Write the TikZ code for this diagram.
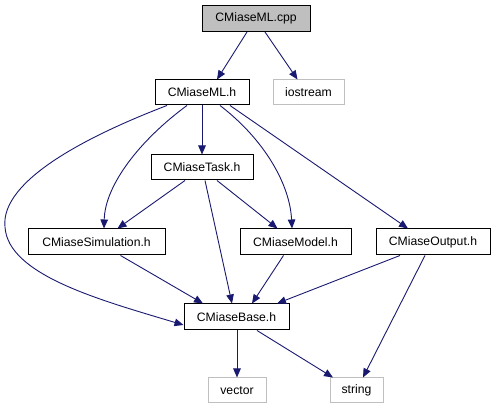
\documentclass[tikz,border=0pt]{standalone}
\usepackage{fontspec}
\setmainfont{Liberation Sans}
\usetikzlibrary{arrows.meta}
\definecolor{edgeblue}{HTML}{191970}
\definecolor{grayb}{HTML}{BFBFBF}
\begin{document}
\begin{tikzpicture}[x=1pt,y=-1pt,
  box/.style={draw=black,line width=1pt,minimum height=25pt,inner sep=0pt,font=\fontsize{12.2}{14}\selectfont},
  sysbox/.style={box,draw=grayb},
  rootbox/.style={box,fill=grayb},
  edge/.style={draw=edgeblue,line width=0.9pt,-{Triangle[length=9pt,width=7.5pt]}}]
\useasboundingbox (0,0) rectangle (496,411);
\node[rootbox,minimum width=108pt,minimum height=26pt] (cpp) at (256,18.5) {CMiaseML.cpp};
\node[box,minimum width=94pt] (ml) at (202,92.5) {CMiaseML.h};
\node[sysbox,minimum width=71pt] (ios) at (308.5,92.5) {iostream};
\node[box,minimum width=102pt] (task) at (202,167.5) {CMiaseTask.h};
\node[box,minimum width=137pt,minimum height=26pt] (sim) at (96.5,242) {CMiaseSimulation.h};
\node[box,minimum width=111pt,minimum height=26pt] (model) at (295.5,242) {CMiaseModel.h};
\node[box,minimum width=114pt,minimum height=26pt] (out) at (433,242) {CMiaseOutput.h};
\node[box,minimum width=105pt,minimum height=26pt] (base) at (236.5,317) {CMiaseBase.h};
\node[sysbox,minimum width=58pt] (vec) at (237,390.5) {vector};
\node[sysbox,minimum width=53pt] (str) at (356.5,390.5) {string};

\draw[edge] ([xshift=-9pt]cpp.south) -- ([xshift=15pt]ml.north);
\draw[edge] ([xshift=9pt]cpp.south) -- ([xshift=-11pt]ios.north);
\draw[edge] (ml.south) -- (task.north);
\draw[edge] ([xshift=-15pt]ml.south) .. controls (140,140) and (105,185) .. ([xshift=7.5pt]sim.north);
\draw[edge] ([xshift=-35pt]ml.south) .. controls (90,135) and (0,180) .. (5,227) .. controls (8,275) and (100,300) .. ([yshift=-8pt]base.west);
\draw[edge] ([xshift=18pt]ml.south) .. controls (265,140) and (290,185) .. ([xshift=-3.5pt]model.north);
\draw[edge] ([xshift=28pt]ml.south) -- ([xshift=-25pt]out.north);
\draw[edge] ([xshift=-17pt]task.south) -- ([xshift=21pt]sim.north);
\draw[edge] ([xshift=15pt]task.south) -- ([xshift=-18pt]model.north);
\draw[edge] ([xshift=3pt]task.south) -- ([xshift=-4.5pt]base.north);
\draw[edge] ([xshift=24pt]sim.south) -- ([xshift=-33.5pt]base.north);
\draw[edge] ([xshift=-12pt]model.south) -- ([xshift=15.5pt]base.north);
\draw[edge] ([xshift=-33pt]out.south) -- ([xshift=40.5pt]base.north);
\draw[edge] ([xshift=-8pt]out.south) -- ([xshift=6.5pt]str.north);
\draw[edge] ([xshift=0.5pt]base.south) -- (vec.north);
\draw[edge] ([xshift=20.5pt]base.south) -- ([xshift=-23.5pt]str.north);
\end{tikzpicture}
\end{document}
